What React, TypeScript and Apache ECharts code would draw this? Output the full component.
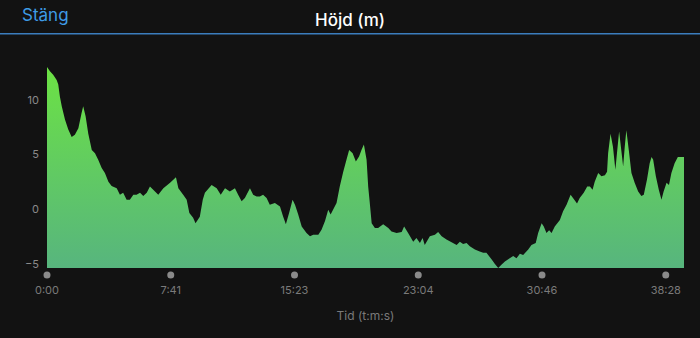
import React, { useEffect, useRef } from "react";
import * as echarts from "echarts";

// elapsed time in seconds
const timeSec = [
  0, 11, 23, 36, 42, 48, 55, 67, 79, 92, 104, 117, 129, 135, 144, 154, 167, 179, 191, 204,
  216, 229, 241, 260, 272, 284, 297, 309, 322, 334, 347, 359, 372, 384, 415, 434, 459, 481, 490, 508,
  521, 531, 545, 554, 570, 581, 589, 614, 633, 648, 664, 682, 701, 713, 726, 738, 757, 769, 782, 794,
  806, 819, 831, 850, 869, 881, 891, 903, 916, 925, 937, 950, 968, 981, 993, 1012, 1024, 1037, 1049, 1058,
  1067, 1080, 1092, 1105, 1117, 1127, 1140, 1152, 1164, 1173, 1182, 1192, 1198, 1204, 1211, 1223, 1235, 1254, 1273, 1285,
  1304, 1323, 1332, 1347, 1366, 1378, 1391, 1401, 1409, 1428, 1447, 1459, 1472, 1490, 1509, 1528, 1540, 1552, 1565, 1577,
  1596, 1614, 1627, 1639, 1658, 1670, 1683, 1695, 1708, 1726, 1739, 1751, 1764, 1776, 1795, 1807, 1823, 1832, 1845, 1853,
  1863, 1873, 1882, 1894, 1913, 1925, 1938, 1953, 1962, 1977, 1987, 2002, 2015, 2025, 2035, 2043, 2056, 2068, 2081, 2089,
  2093, 2102, 2111, 2120, 2126, 2134, 2142, 2149, 2155, 2161, 2170, 2180, 2192, 2205, 2217, 2226, 2238, 2248, 2255, 2261,
  2271, 2282, 2292, 2300, 2311, 2320, 2329, 2341, 2353, 2376,
];

// elevation in metres
const elevation = [
  13.0, 12.6, 12.3, 11.8, 11.4, 10.3, 9.4, 8.2, 7.3, 6.6, 6.8, 7.4, 8.8, 9.4, 8.5, 6.9, 5.4, 5.1, 4.5, 3.75,
  3.3, 2.5, 2.1, 1.9, 1.3, 1.5, 0.85, 0.85, 1.3, 1.3, 1.5, 1.2, 1.5, 2.07, 1.3, 1.9, 2.4, 2.9, 1.9, 1.3,
  0.85, -0.37, -0.8, -1.3, -0.7, 0.85, 1.5, 2.2, 1.9, 1.3, 1.9, 1.6, 1.9, 1.3, 0.7, 1.0, 1.9, 1.3, 1.15, 1.15,
  1.3, 1.0, 0.4, 0.55, 0.24, -0.7, -1.4, -0.37, 0.85, 0.4, -0.5, -1.6, -2.2, -2.5, -2.35, -2.35, -1.9, -1.1, -0.06, -0.5,
  -0.06, 0.55, 2.07, 3.4, 4.5, 5.4, 5.1, 4.35, 4.8, 5.4, 5.9, 4.5, 2.07, 0.55, -1.3, -1.74, -1.74, -1.4, -1.74, -2.05,
  -2.2, -2.1, -1.6, -2.2, -3.0, -2.65, -3.1, -2.65, -3.3, -2.5, -2.35, -2.1, -2.5, -2.8, -3.05, -3.3, -3.0, -3.2, -3.1, -3.4,
  -3.7, -3.9, -4.0, -4.0, -4.6, -5.0, -5.4, -5.1, -4.8, -4.5, -4.3, -4.5, -4.1, -4.2, -3.7, -3.3, -3.1, -2.2, -1.3, -1.6,
  -2.2, -1.95, -2.2, -1.6, -1.0, -0.2, 0.4, 1.3, 1.0, 0.5, 1.0, 1.5, 2.07, 2.07, 1.77, 2.5, 3.3, 3.0, 3.1, 3.4,
  5.1, 6.9, 5.7, 3.6, 5.1, 7.1, 5.4, 3.9, 5.7, 7.2, 5.4, 3.3, 2.4, 1.6, 1.2, 1.3, 2.7, 4.2, 4.75, 4.5,
  3.0, 1.77, 0.85, 1.6, 2.4, 2.2, 3.3, 4.2, 4.75, 4.75,
];

// x tick spacing (7:41.6) and y axis bounds
const xTickInterval = 461.6;
const xMax = 2376;
const yMin = -5.4;
const yMax = 13.0;

const titleText = "Höjd (m)";
const closeText = "Stäng";
const xAxisName = "Tid (t:m:s)";

function fmtTime(v: number): string {
  const t = Math.floor(v + 1e-6);
  const m = Math.floor(t / 60);
  const s = t % 60;
  return `${m}:${s < 10 ? "0" + s : s}`;
}

export default function App() {
  const ref = useRef<HTMLDivElement>(null);
  useEffect(() => {
    if (!ref.current) return;
    const chart = echarts.init(ref.current, undefined, { renderer: "svg" });
    const font = "Inter, 'Noto Sans', sans-serif";
    chart.setOption({
      animation: false,
      backgroundColor: "#121212",
      textStyle: { fontFamily: font },
      title: {
        text: titleText,
        left: "center",
        top: 6,
        textStyle: { color: "#ffffff", fontSize: 17, fontWeight: 500, fontFamily: font },
      },
      graphic: [
        {
          type: "text",
          left: 22,
          top: 6,
          style: { text: closeText, fill: "#3e9be6", fontSize: 17, fontFamily: font },
        },
        {
          type: "line",
          shape: { x1: 0, y1: 33.8, x2: 700, y2: 33.8 },
          style: { stroke: "#3b7dbd", lineWidth: 1.5 },
        },
      ],
      grid: { left: 47, right: 16, top: 67, bottom: 70 },
      xAxis: {
        type: "value",
        min: 0,
        max: xMax,
        interval: xTickInterval,
        axisLine: { show: false },
        axisTick: { show: false },
        splitLine: { show: false },
        name: xAxisName,
        nameLocation: "middle",
        nameGap: 41,
        nameTextStyle: { color: "#7a7a7a", fontSize: 12, fontFamily: font },
        axisLabel: {
          showMaxLabel: false,
          margin: 2,
          formatter: (v: number) => `{dot|}\n{lbl|${fmtTime(v)}}`,
          rich: {
            dot: {
              width: 7,
              height: 7,
              borderRadius: 3.5,
              backgroundColor: "#8a8a8a",
              lineHeight: 10,
            },
            lbl: { color: "#7a7a7a", fontSize: 11, lineHeight: 20, fontFamily: font },
          },
        },
      },
      yAxis: {
        type: "value",
        min: yMin,
        max: yMax,
        splitNumber: 4,
        minInterval: 5,
        maxInterval: 5,
        axisLine: { show: false },
        axisTick: { show: false },
        splitLine: { show: false },
        axisLabel: {
          showMinLabel: false,
          showMaxLabel: false,
          margin: 8,
          color: "#8a8a8a",
          fontSize: 11,
          fontFamily: font,
          formatter: (v: number) => {
            if (Math.abs(v % 5) > 1e-6) return "";
            return v < 0 ? "\u2212" + Math.abs(v) : String(v);
          },
        },
      },
      series: [
        {
          type: "line",
          data: timeSec.map((t, i) => [t, elevation[i]]),
          showSymbol: false,
          symbol: "none",
          lineStyle: { width: 0, opacity: 0 },
          areaStyle: {
            origin: "start",
            opacity: 1,
            color: new echarts.graphic.LinearGradient(0, 0, 0, 1, [
              { offset: 0, color: "#6ce244" },
              { offset: 1, color: "#57b57e" },
            ]),
          },
        },
      ],
    });
    return () => chart.dispose();
  }, []);
  return (
    <div
      ref={ref}
      style={{ position: "absolute", left: 0, top: 0, width: 700, height: 338 }}
    />
  );
}
